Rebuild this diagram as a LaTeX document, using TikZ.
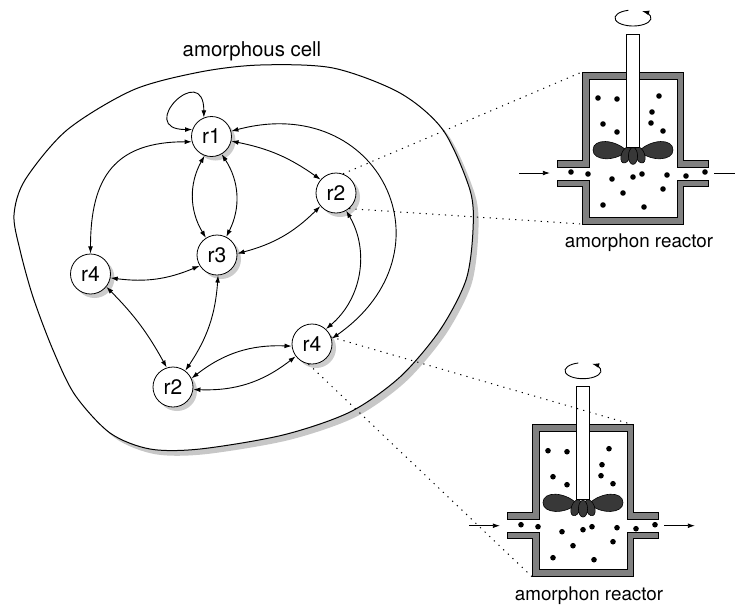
\documentclass[tikz,border=0pt]{standalone}
\usepackage{fontspec}
\setmainfont{TeX Gyre Heros}
\usetikzlibrary{arrows.meta,
                shadows}

\begin{document}
\begin{tikzpicture}[x=0.5pt, y=-0.5pt,
      > = {Latex[length=3.6pt,width=2.4pt]},
  STATE/.style = {circle, draw, fill=white, minimum size=20pt,
                  inner sep=0pt, font=\fontsize{10.5}{12}\selectfont,
                  drop shadow={shadow xshift=2pt, shadow yshift=-2pt,
                               fill=black!20, opacity=1}},
   LINK/.style = {<->, line width=0.45pt},
   WALL/.style = {fill=black!50, draw=black, line width=0.5pt},
    DOT/.style = {fill=black},
   LOBE/.style = {fill=black!78, draw=black, line width=0.3pt},
   ZOOM/.style = {dash pattern=on 0.6pt off 2.6pt, line width=0.5pt}
                        ]
\useasboundingbox (0,0) rectangle (735,607);
% amorphous cell
\filldraw[fill=white, line width=0.5pt,
          drop shadow={shadow xshift=2.6pt, shadow yshift=-2.6pt,
                       fill=black!22, opacity=1}]
    plot[smooth cycle] coordinates {(260,65) (333,68) (400,93) (443,130)
      (470,190) (473,230) (466,280) (440,330) (400,377) (350,412) (283,435)
      (200,449) (150,449) (110,433) (75,395) (53,350) (33,297) (20,250)
      (14,215) (25,180) (67,130) (133,90) (200,72)};
\node[font=\fontsize{10.2}{12}\selectfont] (cell) at (252,51) {amorphous cell};
% reactions
\node[STATE] (r1)  at (211.5,136.5) {r1};
\node[STATE] (r2a) at (336,193)     {r2};
\node[STATE] (r3)  at (217,255)     {r3};
\node[STATE] (r4a) at (90.5,274)    {r4};
\node[STATE] (r2b) at (173,387)     {r2};
\node[STATE] (r4b) at (312,344)     {r4};
%
\draw[LINK] (r1.160) .. controls +(180:29pt) and +(90:29pt) .. (r1.112);
\draw[LINK] (r1.195) to[out=180, in=90, looseness=1.3] (r4a.north);
\draw[LINK] (r1.250) to[bend right=30] (r3.123);
\draw[LINK] (r1.300) to[bend left=30]  (r3.63);
\draw[LINK] (r1.347) to[bend left=12]  (r2a.139);
\draw[LINK] (r1.15)  to[out=15, in=35, looseness=1.7] (r4b.15);
\draw[LINK] (r2a.220) to[bend left=15] (r3.4);
\draw[LINK] (r2a.300) to[bend left=40] (r4b.47);
\draw[LINK] (r3.212) to[bend left=15]  (r4a.349);
\draw[LINK] (r3.273) to[bend left=15]  (r2b.53);
\draw[LINK] (r4a.321) to[bend left=8]  (r2b.108);
\draw[LINK] (r2b.25)  to[bend left=20]  (r4b.186);
\draw[LINK] (r2b.353) to[bend right=20] (r4b.217);
% reactors
\foreach \i/\dx/\dy in {1/0/0, 2/-50/352.7}
{
\begin{scope}[shift={(\dx,\dy)}]
\filldraw[WALL] (557,160) -| (582,72) -| (683,160) -| (708,167)
                -| (677,79) -| (589,167) -- (557,167) -- cycle;
\filldraw[WALL] (557,180) -| (589,217) -| (677,180) -| (708,186)
                -| (683,224) -| (582,186) -- (557,186) -- cycle;
\filldraw[LOBE] (627,151) .. controls (615,139) and (593,138) .. (593,150)
                .. controls (593,161) and (615,162) .. cycle;
\filldraw[LOBE] (639,151) .. controls (651,139) and (673,138) .. (673,150)
                .. controls (673,161) and (651,162) .. cycle;
\filldraw[LOBE, rotate around={-20:(626,155)}]
                (626,155) ellipse[x radius=2.3pt, y radius=4.2pt];
\filldraw[LOBE, rotate around={20:(640,155)}]
                (640,155) ellipse[x radius=2.3pt, y radius=4.2pt];
\filldraw[LOBE] (633,156) ellipse[x radius=2.3pt, y radius=4.2pt];
\filldraw[fill=white, line width=0.5pt] (626,34) rectangle (639,147);
\foreach \p in {(598,98),(617,99),(659,96),(652,112),(651,123),(603,124),
                (617,132),(663,131),(571,172),(588,174),(612,179),(633,177),
                (642,174),(667,175),(686,176),(705,172),(623,193),(663,189),
                (603,205),(644,207)}
    \fill[DOT] \p circle[radius=1.4pt];
\draw[->, line width=0.45pt] (519,173) -- (550,173);
\draw[->, line width=0.45pt] (714,173) -- (745,173);
\draw[->, line width=0.45pt] ([shift={(105:9pt and 4pt)}]633,18)
      arc[start angle=105, end angle=420, x radius=9pt, y radius=4pt];
\coordinate (tl\i) at (582,72);
\coordinate (tr\i) at (683,72);
\coordinate (bl\i) at (582,224);
\node[font=\fontsize{9.4}{11}\selectfont] (lbl\i) at (639,243) {amorphon reactor};
\end{scope}
}
% zoom lines
\draw[ZOOM] (r2a.70)  -- (tl1);
\draw[ZOOM] (r2a.310) -- (bl1);
\draw[ZOOM] (r4b.20)  -- (tr2);
\draw[ZOOM] (r4b.260) -- (bl2);
\end{tikzpicture}
\end{document}
